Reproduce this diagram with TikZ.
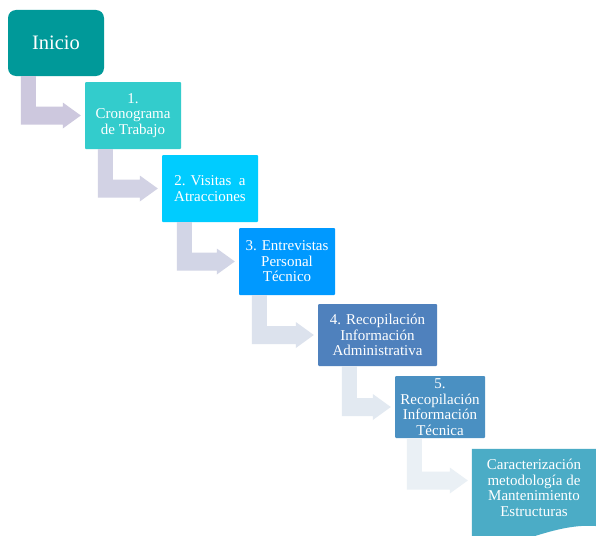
\documentclass[tikz,border=0pt]{standalone}
\usepackage{fontspec}
\setmainfont{Liberation Serif}
\usetikzlibrary{calc,backgrounds}
\definecolor{cini}{RGB}{0,153,153}
\definecolor{cone}{RGB}{51,204,204}
\definecolor{ctwo}{RGB}{0,204,255}
\definecolor{cthree}{RGB}{0,153,255}
\definecolor{cfour}{RGB}{79,129,189}
\definecolor{cfive}{RGB}{74,144,194}
\definecolor{csix}{RGB}{75,172,198}
\definecolor{aone}{RGB}{205,200,222}
\definecolor{atwo}{RGB}{210,210,228}
\definecolor{athree}{RGB}{210,213,230}
\definecolor{afour}{RGB}{220,226,237}
\definecolor{afive}{RGB}{226,233,241}
\definecolor{asix}{RGB}{234,240,245}
\newcommand\bentarrow[5]{%
  \fill[#5] let \p1=(#1.south west), \p2=(#2.west) in
  ({\x1+#3pt},\y1) -- ({\x1+#3pt+15pt},\y1) --
  ({\x1+#3pt+15pt},{\y2+#4pt+9pt}) -- ({\x2-22pt},{\y2+#4pt+9pt}) --
  ({\x2-22pt},{\y2+#4pt+13pt}) -- ({\x2-4pt},{\y2+#4pt}) --
  ({\x2-22pt},{\y2+#4pt-13pt}) -- ({\x2-22pt},{\y2+#4pt-9pt}) --
  ({\x1+#3pt},{\y2+#4pt-9pt}) -- cycle;}
\tikzset{
  stepbox/.style={rectangle, rounded corners=1pt, text=white, align=center,
    inner sep=0pt, font=\fontsize{15pt}{15.5pt}\selectfont},
  startbox/.style={rectangle, rounded corners=8pt, fill=cini, text=white,
    inner sep=0pt, minimum width=96pt, minimum height=66pt,
    font=\fontsize{20.5pt}{24pt}\selectfont}
}
\begin{document}
\begin{tikzpicture}[x=1pt,y=-1pt]
\useasboundingbox (0,0) rectangle (596,535);
\begin{scope}
\clip (0,0) rectangle (596,535);
\node[startbox] (ini) at (56,43) {Inicio};
\node[stepbox, fill=cone, minimum width=96pt, minimum height=67pt] (b1) at (133,115.5) {1.\\Cronograma\\de Trabajo};
\node[stepbox, fill=ctwo, minimum width=96pt, minimum height=67pt] (b2) at (210,188.5) {2. Visitas\ \ a\\Atracciones};
\node[stepbox, fill=cthree, minimum width=96pt, minimum height=67pt] (b3) at (287,261.5) {3. Entrevistas\\Personal\\Técnico};
\node[stepbox, fill=cfour, minimum width=119pt, minimum height=62pt] (b4) at (377.5,335) {4. Recopilación\\Información\\Administrativa};
\node[stepbox, fill=cfive, minimum width=90pt, minimum height=62pt] (b5) at (440,407) {5.\\Recopilación\\Información\\Técnica};
\node[stepbox, minimum width=124pt, minimum height=78pt] (b6) at (534,488) {Caracterización\\metodología de\\Mantenimiento\\Estructuras};
\begin{pgfonlayer}{background}
\fill[white] (0,0) rectangle (596,535);
\fill[csix] (b6.north west) -- (b6.north east) -- ($(b6.south east)+(2,-1)$)
  .. controls ($(b6.south east)+(-20,-3)$) and ($(b6.south east)+(-40,2)$) .. ($(b6.south east)+(-65,10)$)
  -- ($(b6.south west)+(0,12)$) -- cycle;
\end{pgfonlayer}
\bentarrow{ini}{b1}{13}{0}{aone}
\bentarrow{b1}{b2}{13}{0}{atwo}
\bentarrow{b2}{b3}{15}{0}{athree}
\bentarrow{b3}{b4}{13}{0}{afour}
\bentarrow{b4}{b5}{24}{0}{afive}
\bentarrow{b5}{b6}{12}{7.5}{asix}
\end{scope}
\end{tikzpicture}
\end{document}
